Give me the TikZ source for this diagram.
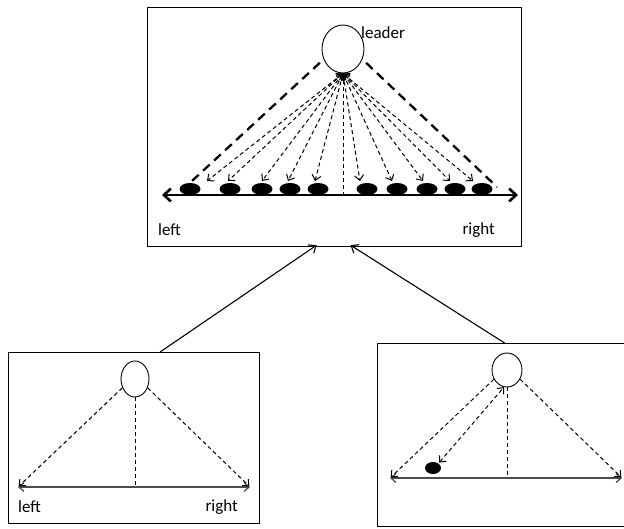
\documentclass[tikz,border=0pt]{standalone}
\usepackage{fontspec}
\setmainfont{Carlito}
\usetikzlibrary{arrows.meta,calc,shapes.geometric}
\tikzset{
  frame/.style={draw, line width=1.2pt, inner sep=0pt, anchor=north west},
  agent/.style={draw, ellipse, line width=0.9pt, inner sep=0pt},
  blob/.style={fill=black, ellipse, inner sep=0pt, minimum width=21pt, minimum height=12pt},
  ray/.style={dash pattern=on 4pt off 3pt, line width=1pt},
  bigray/.style={dash pattern=on 9pt off 6pt, line width=2.3pt},
  barb/.style={-{Straight Barb[length=5pt,width=9pt]}},
  barbs/.style={{Straight Barb[length=5pt,width=9pt]}-{Straight Barb[length=5pt,width=9pt]}},
  conn/.style={line width=1.1pt, -{Straight Barb[length=6pt,width=10pt]}},
  word/.style={font=\fontsize{17}{19}\selectfont, inner sep=0pt}
}
\begin{document}
\begin{tikzpicture}[x=1pt,y=-1pt]
			\useasboundingbox (0,0) rectangle (624,529);
			%%%%% TOP %%%%%
			\node[frame, minimum width=374pt, minimum height=239pt] (topbox) at (147,7) {};
			\node[agent, minimum width=42pt, minimum height=48pt] (leader) at (343,49) {};
			\node[word, anchor=west] (leadername) at (361,33) {leader};
			
			\coordinate (tl) at (162,195);
			\coordinate (tr) at (518,195);
			\coordinate (er) at (497,187);
			\draw[line width=2.6pt, {Straight Barb[length=7pt,width=13pt]}-{Straight Barb[length=7pt,width=13pt]}] (tl) -- (tr);
			
			\foreach \bx/\ax [count=\i] in {190/207,230/228,262/262,290/288,318/315,367/360,397/392,427/423,455/450,482/473} {
				\node[blob] (b\i) at (\bx,189) {};
				\coordinate (t\i) at (\ax,181);
				\draw[ray, barbs] (leader.south) -- (t\i);
			}
			\draw[ray] (leader.south) -- (leader.south |- tl);
			\draw[bigray, shorten <=5pt] (leader.208) -- (b1.north);
			\draw[bigray, shorten <=5pt] (leader.-28) -- (er);
			
			\node[word, anchor=west] (topleft) at (158,230) {left};
			\node[word, anchor=east] (topright) at (495,230) {right};
			
			%%%%% BOTTOM LEFT %%%%%
			\node[frame, minimum width=251pt, minimum height=171pt] (lbox) at (8,352) {};
			\node[agent, minimum width=28pt, minimum height=36pt] (lagent) at (135,379) {};
			\coordinate (ll) at (18,487);
			\coordinate (lr) at (250,487);
			\draw[line width=1.3pt, black!70, barbs] (ll) -- (lr);
			\draw[ray, barb, shorten >=1pt] (lagent.215) -- (ll);
			\draw[ray, barb, shorten >=1pt] (lagent.-35) -- (lr);
			\draw[ray] (lagent.south) -- (lagent.south |- ll);
			\node[word, anchor=west] (botleft) at (18,507) {left};
			\node[word, anchor=east] (botright) at (238,507) {right};
			
			%%%%% BOTTOM RIGHT %%%%%
			\node[frame, minimum width=256pt, minimum height=183pt] (rbox) at (377,343) {};
			\node[agent, minimum width=30pt, minimum height=34pt] (ragent) at (507,370) {};
			\coordinate (rl) at (390,478);
			\coordinate (rr) at (622,478);
			\draw[line width=1.3pt, black!70, barbs] (rl) -- (rr);
			\draw[ray, barb, shorten >=1pt] (ragent.215) -- (rl);
			\draw[ray, barb, shorten >=1pt] (ragent.-35) -- (rr);
			\draw[ray] (ragent.south) -- (ragent.south |- rl);
			\node[blob, minimum width=16pt, minimum height=12pt] (rblob) at (433,468) {};
			\draw[ray, barbs, shorten <=1pt] (rblob.40) -- (ragent.-100);
			
			%%%%% LINKS %%%%%
			\draw[conn] ($(lbox.north)+(26,0)$) -- ($(topbox.south)+(-18,-2)$);
			\draw[conn] ($(rbox.north)+(-1,0)$) -- ($(topbox.south)+(16,-2)$);
\end{tikzpicture}
\end{document}
